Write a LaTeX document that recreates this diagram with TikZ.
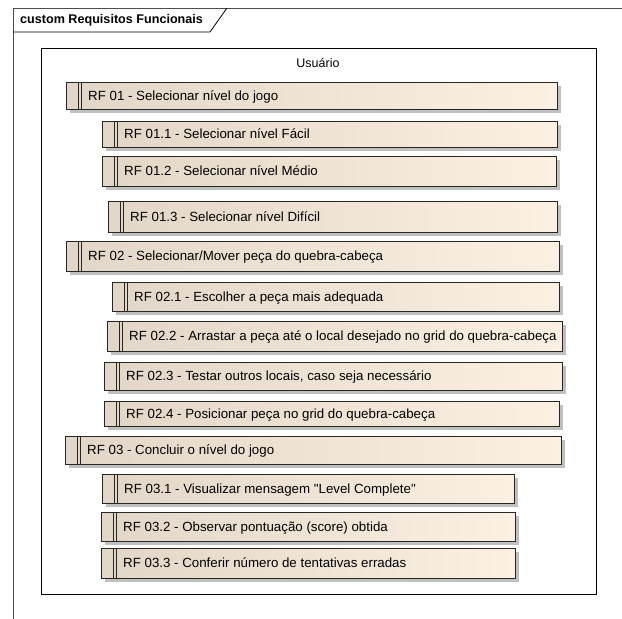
\documentclass[tikz,border=0pt]{standalone}
\usepackage{fontspec}
\setmainfont{Liberation Sans}
\usetikzlibrary{shadows}
\definecolor{reqleft}{RGB}{226,215,199}
\definecolor{reqright}{RGB}{251,240,225}
\definecolor{reqshadow}{RGB}{192,192,192}
\tikzset{
  reqbox/.style={draw=black!85, line width=0.8pt, anchor=north west, inner sep=0pt, outer sep=0pt,
    left color=reqleft, right color=reqright,
    general shadow={fill=reqshadow, shadow xshift=4pt, shadow yshift=-4pt}},
  reqbar/.style={draw=black!85, line width=0.8pt},
  reqtext/.style={anchor=base west, inner sep=0pt, font=\fontsize{13.3}{15}\selectfont}
}
\begin{document}
\begin{tikzpicture}[x=1pt,y=-1pt]
\useasboundingbox (0,0) rectangle (622,619);
% frame
\draw[line width=0.8pt, black!70] (13,619) -- (13,8) -- (622,8);
\draw[line width=0.8pt] (13,32) -- (210,32) -- (227,8);
\node[anchor=west, inner sep=0pt, font=\bfseries\fontsize{12.6}{14}\selectfont] (title) at (20,20) {custom Requisitos Funcionais};
% ator
\draw[line width=0.8pt] (41,48) rectangle (596,594);
\node[font=\fontsize{12.5}{14}\selectfont] (usuario) at (318,63) {Usuário};
% requisitos
\foreach \n/\x/\y/\r/\b/\t in {
    rf1/66/82/557/109/{RF 01 - Selecionar nível do jogo},
    rf11/102/121/557/147/{RF 01.1 - Selecionar nível Fácil},
    rf12/102/156/556/186/{RF 01.2 - Selecionar nível Médio},
    rf13/108/201/557/232/{RF 01.3 - Selecionar nível Difícil},
    rf2/66/241/559/271/{RF 02 - Selecionar/Mover peça do quebra-cabeça},
    rf21/112/282/559/311/{RF 02.1 - Escolher a peça mais adequada},
    rf22/107/321/562/351/{RF 02.2 - Arrastar a peça até o local desejado no grid do quebra-cabeça},
    rf23/104/362/562/390/{RF 02.3 - Testar outros locais, caso seja necessário},
    rf24/104/401/559/426/{RF 02.4 - Posicionar peça no grid do quebra-cabeça},
    rf3/65/436/561/464/{RF 03 - Concluir o nível do jogo},
    rf31/102/474/514/503/{RF 03.1 - Visualizar mensagem \textquotedbl Level Complete\textquotedbl},
    rf32/101/512/515/541/{RF 03.2 - Observar pontuação (score) obtida},
    rf33/101/548/515/578/{RF 03.3 - Conferir número de tentativas erradas}}{
  \node[reqbox, minimum width={(\r-\x)*1pt}, minimum height={(\b-\y)*1pt}] (\n) at (\x,\y) {};
  \draw[reqbar] ([xshift=12pt]\n.north west) -- ([xshift=12pt]\n.south west);
  \draw[reqbar] ([xshift=15.5pt]\n.north west) -- ([xshift=15.5pt]\n.south west);
  \node[reqtext] (\n-txt) at ([xshift=22pt,yshift=-4.6pt]\n.west) {\t};
}
\end{tikzpicture}
\end{document}
